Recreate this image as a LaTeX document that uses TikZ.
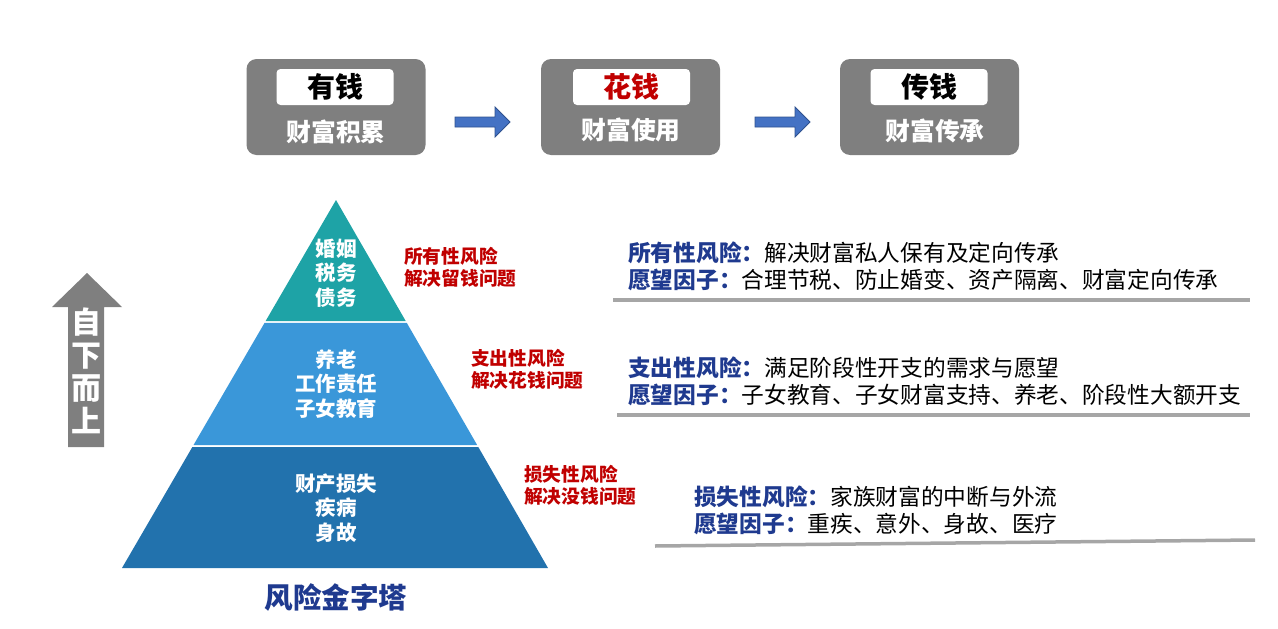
\documentclass[tikz,border=0pt]{standalone}
\usepackage{fontspec}
\usetikzlibrary{calc}
\setmainfont{Noto Sans CJK SC}
\definecolor{boxgray}{HTML}{7F7F7F}
\definecolor{arrowblue}{HTML}{4472C4}
\definecolor{arrowedge}{HTML}{2F528F}
\definecolor{teal1}{HTML}{1EA3A6}
\definecolor{blue2}{HTML}{3A97D9}
\definecolor{blue3}{HTML}{2272AD}
\definecolor{riskred}{HTML}{C00000}
\definecolor{navy}{HTML}{1F3A8F}
\definecolor{rulegray}{HTML}{A6A6A6}
\tikzset{
  topbox/.style={fill=boxgray, rounded corners=10pt, minimum width=179pt, minimum height=96pt, inner sep=0pt},
  tagbox/.style={fill=white, rounded corners=4pt, minimum width=117pt, minimum height=36pt, inner sep=0pt, font=\fontsize{28}{30}\selectfont\bfseries},
  subtext/.style={text=white, inner sep=0pt, font=\fontsize{24.8}{28}\selectfont\bfseries},
  flowarrow/.style={fill=arrowblue, draw=arrowedge, line width=0.8pt},
  pyrtext/.style={text=white, align=center, inner sep=0pt, font=\fontsize{20.5}{24.5}\selectfont\bfseries},
  redlabel/.style={text=riskred, align=left, anchor=west, inner sep=0pt, font=\fontsize{18.7}{22}\selectfont\bfseries},
  desc/.style={anchor=west, inner sep=0pt, font=\fontsize{22.7}{26}\selectfont},
  rule/.style={draw=rulegray, line width=3.5pt}
}
\newcommand{\hd}[1]{\textcolor{navy}{\bfseries #1}}
\begin{document}
\begin{tikzpicture}[x=1pt, y=-1pt]
\useasboundingbox (0,0) rectangle (1278,629);

% top flow boxes
\node[topbox] (b1) at (336,107) {};
\node[topbox] (b2) at (630.5,107) {};
\node[topbox] (b3) at (929.5,107) {};
\node[tagbox] (t1) at (335,87) {有钱};
\node[tagbox, text=riskred] (t2) at (631.5,87) {花钱};
\node[tagbox] (t3) at (929,87) {传钱};
\node[subtext] (s1) at (336,132) {财富积累};
\node[subtext] (s2) at (631,130) {财富使用};
\node[subtext] (s3) at (935,131) {财富传承};

% block arrows between boxes
\coordinate (a1) at (455,110);
\coordinate (a2) at (755,110);
\foreach \c in {a1,a2}{
  \draw[flowarrow] ([yshift=-7pt]\c) -- ++(40,0) -- ++(0,-10) -- ++(15,15) -- ++(-15,15) -- ++(0,-10) -- ++(-40,0) -- cycle;
}

% pyramid
\coordinate (A) at (336,200);
\coordinate (BL) at (122,568);
\coordinate (BR) at (548,568);
\fill[teal1] (A) -- ($(A)!0.3288!(BR)$) -- ($(A)!0.3288!(BL)$) -- cycle;
\fill[blue2] ($(A)!0.3342!(BL)$) -- ($(A)!0.3342!(BR)$) -- ($(A)!0.6658!(BR)$) -- ($(A)!0.6658!(BL)$) -- cycle;
\fill[blue3] ($(A)!0.6712!(BL)$) -- ($(A)!0.6712!(BR)$) -- (BR) -- (BL) -- cycle;

\node[pyrtext] (p1) at (336,273) {婚姻\\税务\\债务};
\node[pyrtext] (p2) at (336,384) {养老\\工作责任\\子女教育};
\node[pyrtext] (p3) at (336,508) {财产损失\\疾病\\身故};

\node[redlabel] (r1) at (404,267) {所有性风险\\解决留钱问题};
\node[redlabel] (r2) at (471,369.5) {支出性风险\\解决花钱问题};
\node[redlabel] (r3) at (524,485) {损失性风险\\解决没钱问题};

\node[text=navy, inner sep=0pt, font=\fontsize{28.6}{30}\selectfont\bfseries] (title) at (336,598) {风险金字塔};

% up arrow
\fill[boxgray] (68,447) -- (68,307) -- (52,307) -- (87,273) -- (122,307) -- (104,307) -- (104,447) -- cycle;
\node[text=white, align=center, inner sep=0pt, font=\fontsize{30}{33}\selectfont\bfseries] (up) at (86,371) {自\\下\\而\\上};

% right descriptions
\node[desc] (d1a) at (628,253) {\hd{所有性风险：}解决财富私人保有及定向传承};
\node[desc] (d1b) at (628,280) {\hd{愿望因子：}合理节税、防止婚变、资产隔离、财富定向传承};
\coordinate (l1a) at (613,300); \coordinate (l1b) at (1250,300);
\draw[rule] (l1a) -- (l1b);

\node[desc] (d2a) at (628,368) {\hd{支出性风险：}满足阶段性开支的需求与愿望};
\node[desc] (d2b) at (628,395) {\hd{愿望因子：}子女教育、子女财富支持、养老、阶段性大额开支};
\coordinate (l2a) at (617,415); \coordinate (l2b) at (1250,415);
\draw[rule] (l2a) -- (l2b);

\node[desc] (d3a) at (694,497) {\hd{损失性风险：}家族财富的中断与外流};
\node[desc] (d3b) at (694,524) {\hd{愿望因子：}重疾、意外、身故、医疗};
\coordinate (l3a) at (655,546); \coordinate (l3b) at (1255,540);
\draw[rule] (l3a) -- (l3b);
\end{tikzpicture}
\end{document}
